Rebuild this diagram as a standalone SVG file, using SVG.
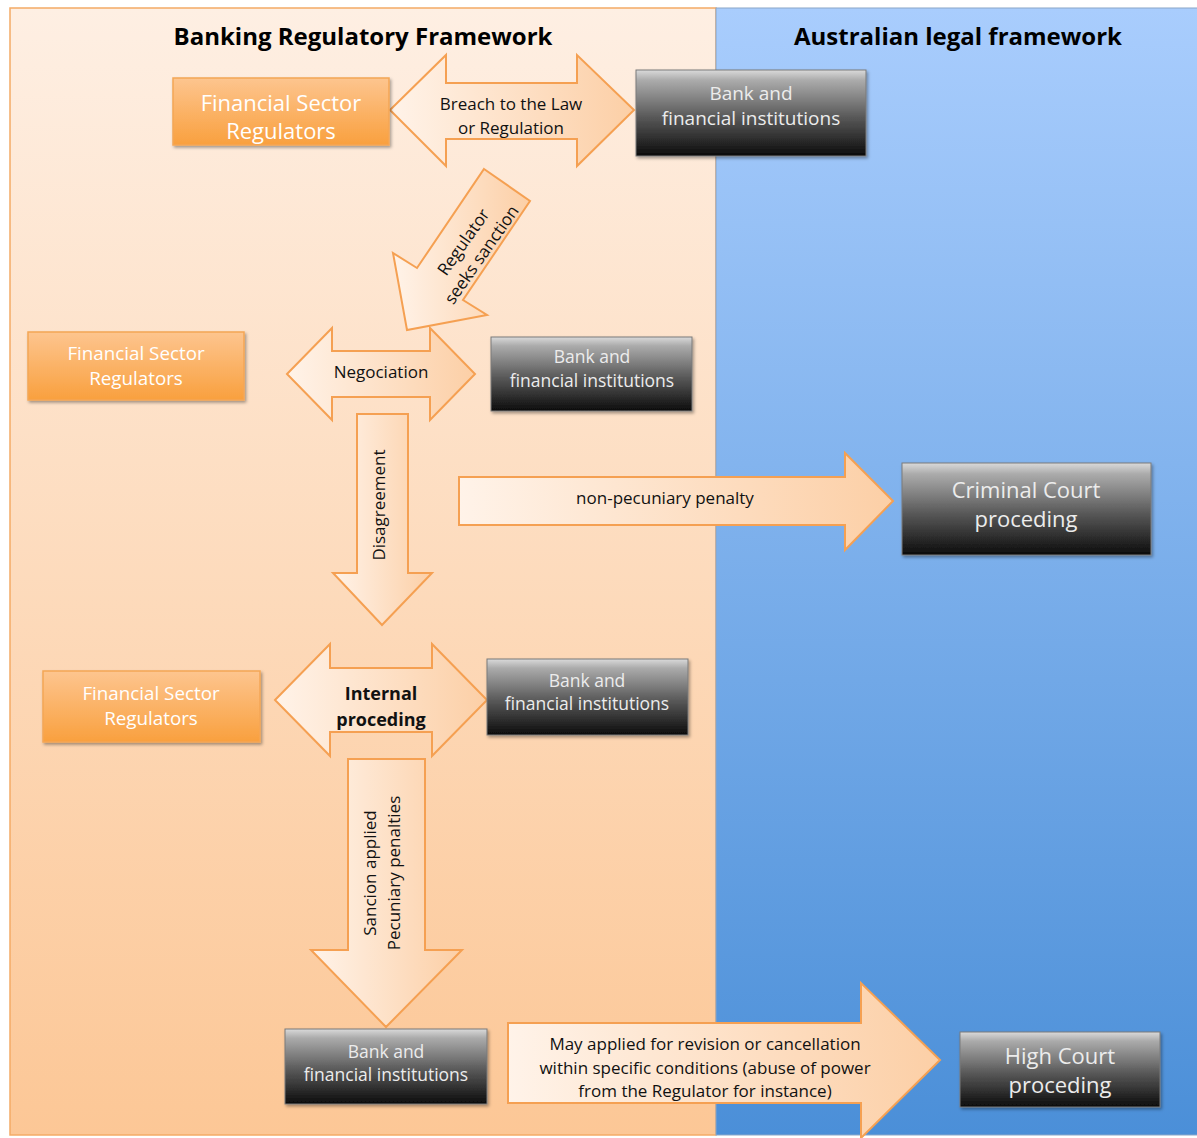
<svg xmlns="http://www.w3.org/2000/svg" width="1197" height="1138" viewBox="0 0 1197 1138">
  <style>
    text { font-family: "Open Sans", "Liberation Sans", sans-serif; text-anchor: middle; dominant-baseline: central; }
    .title { font-size: 24px; font-weight: bold; fill: #000; }
    .reg rect { fill: url(#gOrange); stroke: #f4a656; stroke-width: 1.5; filter: url(#shadow); }
    .reg text { fill: #fff; }
    .bank rect { fill: url(#gDark); stroke: #7a7a7a; stroke-width: 1; filter: url(#shadow); }
    .bank text { fill: #ececec; }
    .arrow polygon { fill: url(#gArrow); stroke: #f5a052; stroke-width: 2; stroke-linejoin: miter; }
    .arrow text { fill: #111; font-size: 17px; }
  </style>
  <defs>
    <linearGradient id="gLeft" x1="0" y1="0" x2="0" y2="1">
      <stop offset="0" stop-color="#feefe3"/>
      <stop offset="1" stop-color="#fcc796"/>
    </linearGradient>
    <linearGradient id="gRight" x1="0" y1="0" x2="0" y2="1">
      <stop offset="0" stop-color="#a9cdfd"/>
      <stop offset="1" stop-color="#4b8fd8"/>
    </linearGradient>
    <linearGradient id="gOrange" x1="0" y1="0" x2="0" y2="1">
      <stop offset="0" stop-color="#fdc58f"/>
      <stop offset="1" stop-color="#f9a03e"/>
    </linearGradient>
    <linearGradient id="gDark" x1="0" y1="0" x2="0" y2="1">
      <stop offset="0" stop-color="#dadada"/>
      <stop offset="0.12" stop-color="#ababab"/>
      <stop offset="0.55" stop-color="#585858"/>
      <stop offset="1" stop-color="#0c0c0c"/>
    </linearGradient>
    <linearGradient id="gArrow" x1="0" y1="0" x2="1" y2="0">
      <stop offset="0" stop-color="#fff3e9"/>
      <stop offset="1" stop-color="#fccfa6"/>
    </linearGradient>
    <filter id="shadow" x="-10%" y="-10%" width="125%" height="130%">
      <feDropShadow dx="1.5" dy="2" stdDeviation="1.5" flood-color="#000" flood-opacity="0.35"/>
    </filter>
  </defs>

  <!-- background panels -->
  <g id="panels">
    <rect x="10" y="8" width="706" height="1127" fill="url(#gLeft)" stroke="#f4ab66" stroke-width="1.5"/>
    <rect x="716" y="8" width="482" height="1127" fill="url(#gRight)" stroke="#8aa6c8" stroke-width="1"/>
    <text class="title" x="363" y="35">Banking Regulatory Framework</text>
    <text class="title" x="958" y="35">Australian legal framework</text>
  </g>

  <!-- connectors: block arrows with labels -->
  <g id="connectors">
    <g class="arrow" id="arrow-breach">
      <polygon points="390,110 446,55 446,83 577,83 577,55 634,110 577,166 577,139 446,139 446,166"/>
      <text x="511" y="103">Breach to the Law</text>
      <text x="511" y="127">or Regulation</text>
    </g>
    <g class="arrow" id="arrow-sanction">
      <polygon points="484,169 530,201 463,300 487,315 407,330 393,253 417,268"/>
      <g transform="translate(472,248) rotate(-55)">
        <text x="0" y="-11">Regulator</text>
        <text x="0" y="11">seeks sanction</text>
      </g>
    </g>
    <g class="arrow" id="arrow-negociation">
      <polygon points="287,374 332,328 332,351 430,351 430,328 475,374 430,420 430,397 332,397 332,420"/>
      <text x="381" y="371">Negociation</text>
    </g>
    <g class="arrow" id="arrow-disagreement">
      <polygon points="357,414 408,414 408,573 432,573 382,625 333,573 357,573"/>
      <text transform="translate(378,505) rotate(-90)">Disagreement</text>
    </g>
    <g class="arrow" id="arrow-nonpecuniary">
      <polygon points="459,477 845,477 845,453 893,501 845,550 845,525 459,525"/>
      <text x="665" y="497">non-pecuniary penalty</text>
    </g>
    <g class="arrow" id="arrow-internal">
      <polygon points="275,700 330,644 330,668 432,668 432,644 487,700 432,756 432,732 330,732 330,756"/>
      <text x="381" y="693" style="font-weight:bold;font-size:18px">Internal</text>
      <text x="381" y="719" style="font-weight:bold;font-size:18px">proceding</text>
    </g>
    <g class="arrow" id="arrow-pecuniary">
      <polygon points="348,759 425,759 425,950 462,950 386,1027 311,950 348,950"/>
      <g transform="translate(381,873) rotate(-90)">
        <text x="0" y="-12">Sancion applied</text>
        <text x="0" y="12">Pecuniary penalties</text>
      </g>
    </g>
    <g class="arrow" id="arrow-revision">
      <polygon points="508,1023 861,1023 861,983 940,1060 861,1138 861,1103 508,1103"/>
      <text x="705" y="1043" font-size="17.4">May applied for revision or cancellation</text>
      <text x="705" y="1067" font-size="17.4">within specific conditions (abuse of power</text>
      <text x="705" y="1090" font-size="17.4">from the Regulator for instance)</text>
    </g>
  </g>

  <!-- nodes -->
  <g id="regulators-1" class="reg">
    <rect x="173" y="78" width="216" height="67"/>
    <text x="281" y="102" font-size="22">Financial Sector</text>
    <text x="281" y="130" font-size="22">Regulators</text>
  </g>
  <g id="bank-1" class="bank">
    <rect x="636" y="70" width="230" height="86"/>
    <text x="751" y="93" font-size="19">Bank and</text>
    <text x="751" y="118" font-size="19">financial institutions</text>
  </g>
  <g id="regulators-2" class="reg">
    <rect x="28" y="332" width="216" height="68"/>
    <text x="136" y="353" font-size="18.8">Financial Sector</text>
    <text x="136" y="378" font-size="18.8">Regulators</text>
  </g>
  <g id="bank-2" class="bank">
    <rect x="491" y="337" width="201" height="74"/>
    <text x="592" y="356" font-size="17.5">Bank and</text>
    <text x="592" y="380" font-size="17.5">financial institutions</text>
  </g>
  <g id="criminal-court" class="bank">
    <rect x="902" y="463" width="249" height="92"/>
    <text x="1026" y="489" font-size="22">Criminal Court</text>
    <text x="1026" y="518" font-size="22">proceding</text>
  </g>
  <g id="regulators-3" class="reg">
    <rect x="43" y="671" width="217" height="71"/>
    <text x="151" y="693" font-size="18.8">Financial Sector</text>
    <text x="151" y="718" font-size="18.8">Regulators</text>
  </g>
  <g id="bank-3" class="bank">
    <rect x="487" y="659" width="201" height="76"/>
    <text x="587" y="680" font-size="17.5">Bank and</text>
    <text x="587" y="703" font-size="17.5">financial institutions</text>
  </g>
  <g id="bank-4" class="bank">
    <rect x="285" y="1029" width="202" height="75"/>
    <text x="386" y="1051" font-size="17.5">Bank and</text>
    <text x="386" y="1074" font-size="17.5">financial institutions</text>
  </g>
  <g id="high-court" class="bank">
    <rect x="960" y="1032" width="200" height="75"/>
    <text x="1060" y="1055" font-size="22">High Court</text>
    <text x="1060" y="1084" font-size="22">proceding</text>
  </g>
</svg>
